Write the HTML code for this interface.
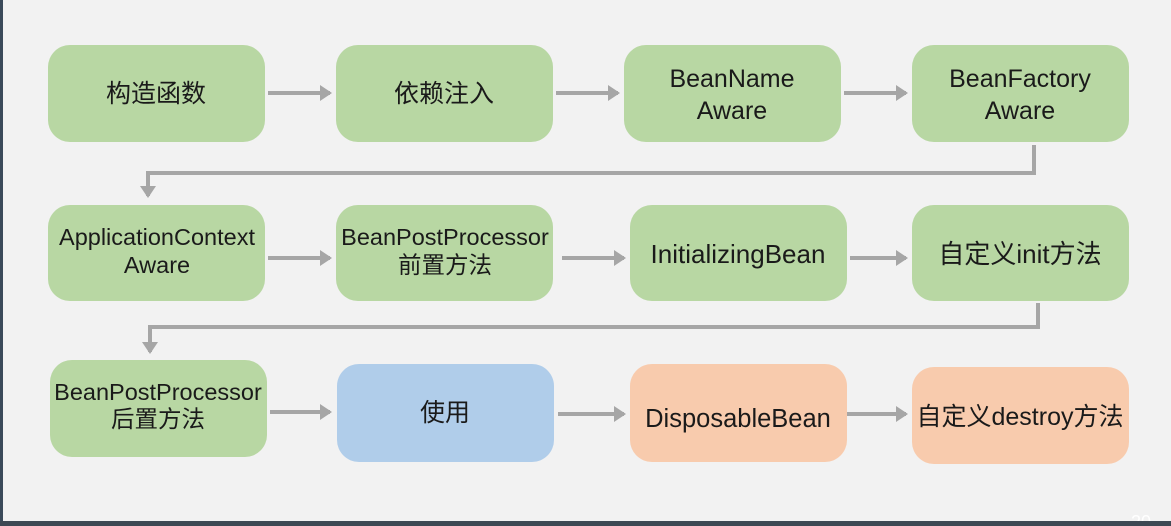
<!DOCTYPE html>
<html><head><meta charset="utf-8"><style>
html,body{margin:0;padding:0;background:#f2f2f2;}
body{width:1171px;height:526px;position:relative;overflow:hidden;font-family:"Liberation Sans","Noto Sans CJK SC",sans-serif;}
.l{position:absolute;left:0;top:0;width:3px;height:526px;background:#3b4a5a;}
.b{position:absolute;left:0;top:521px;width:1171px;height:5px;background:#3d4853;}
.n{position:absolute;right:20px;top:513px;color:#fff;font-size:18px;line-height:18px;height:8px;overflow:hidden;}
</style></head><body>
<div class="l"></div>
<svg width="1171" height="526" style="position:absolute;left:0;top:0" font-family="Liberation Sans, Noto Sans CJK SC, sans-serif" font-size="25" fill="#1a1a1a" text-anchor="middle">
<defs><marker id="a" markerWidth="4" markerHeight="4" refX="2.5" refY="2" orient="auto" markerUnits="strokeWidth"><path d="M0,0L3,2L0,4z" fill="#a6a6a6"/></marker></defs>
<g stroke="#a6a6a6" stroke-width="4" fill="none">
<line x1="268" y1="93" x2="330" y2="93" marker-end="url(#a)"/>
<line x1="556" y1="93" x2="618" y2="93" marker-end="url(#a)"/>
<line x1="844" y1="93" x2="906" y2="93" marker-end="url(#a)"/>
<polyline points="1034,145 1034,173 148,173 148,196" marker-end="url(#a)"/>
<line x1="268" y1="258" x2="330" y2="258" marker-end="url(#a)"/>
<line x1="562" y1="258" x2="624" y2="258" marker-end="url(#a)"/>
<line x1="850" y1="258" x2="906" y2="258" marker-end="url(#a)"/>
<polyline points="1038,303 1038,327 150,327 150,352" marker-end="url(#a)"/>
<line x1="270" y1="412" x2="330" y2="412" marker-end="url(#a)"/>
<line x1="558" y1="414" x2="624" y2="414" marker-end="url(#a)"/>
<line x1="846" y1="414" x2="906" y2="414" marker-end="url(#a)"/>
</g>
<g fill="#b8d7a3">
<rect x="48" y="45" width="217" height="97" rx="22"/>
<rect x="336" y="45" width="217" height="97" rx="22"/>
<rect x="624" y="45" width="217" height="97" rx="22"/>
<rect x="912" y="45" width="217" height="97" rx="22"/>
<rect x="48" y="205" width="217" height="96" rx="22"/>
<rect x="336" y="205" width="217" height="96" rx="22"/>
<rect x="630" y="205" width="217" height="96" rx="22"/>
<rect x="912" y="205" width="217" height="96" rx="22"/>
<rect x="50" y="360" width="217" height="97" rx="22"/>
</g>
<rect x="337" y="364" width="217" height="98" rx="22" fill="#b0cdea"/>
<rect x="630" y="364" width="217" height="98" rx="22" fill="#f8cbad"/>
<rect x="912" y="367" width="217" height="97" rx="22" fill="#f8cbad"/>
<text x="156" y="102">构造函数</text>
<text x="444" y="102">依赖注入</text>
<text x="732" y="87">BeanName</text><text x="732" y="119">Aware</text>
<text x="1020" y="87">BeanFactory</text><text x="1020" y="119">Aware</text>
<text x="157" y="245" font-size="23.5">ApplicationContext</text><text x="157" y="273" font-size="23.5">Aware</text>
<text x="445" y="245" font-size="23.5">BeanPostProcessor</text><text x="445" y="273" font-size="23.5">前置方法</text>
<text x="738" y="263" font-size="26">InitializingBean</text>
<text x="1020" y="263" font-size="26">自定义init方法</text>
<text x="158" y="400" font-size="23.5">BeanPostProcessor</text><text x="158" y="427" font-size="23.5">后置方法</text>
<text x="445" y="421">使用</text>
<text x="738" y="427" font-size="25.5">DisposableBean</text>
<text x="1020" y="425">自定义destroy方法</text>
</svg>
<div class="b"></div>
<div class="n">20</div>
</body></html>
